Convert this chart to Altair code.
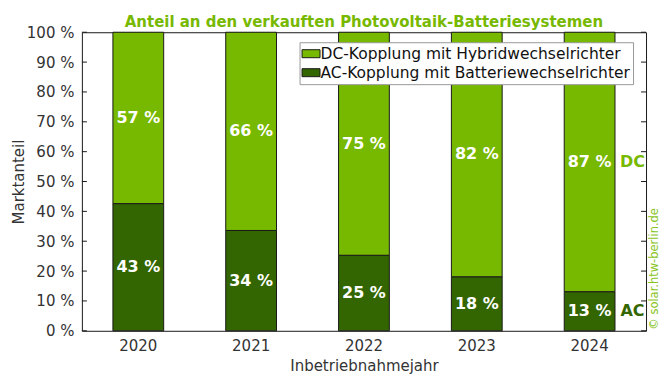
import altair as alt
import pandas as pd

years = ["2020", "2021", "2022", "2023", "2024"]
ac_share = [42.6, 33.6, 25.3, 18.1, 13.1]
dc_share = [57.4, 66.4, 74.7, 81.9, 86.9]
series = ["DC-Kopplung mit Hybridwechselrichter", "AC-Kopplung mit Batteriewechselrichter"]
colors = ["#77b800", "#336600"]
y_ticks = [0, 10, 20, 30, 40, 50, 60, 70, 80, 90, 100]

rows = []
for yr, a, d in zip(years, ac_share, dc_share):
    rows.append(dict(year=yr, series=series[1], value=a, order=0, mid=a / 2, label=f"{round(a)} %"))
    rows.append(dict(year=yr, series=series[0], value=d, order=1, mid=a + d / 2, label=f"{round(d)} %"))
df = pd.DataFrame(rows)
ticks_df = pd.DataFrame({"t": y_ticks})

FONT = "DejaVu Sans"
W, H = 565, 299

xaxis = alt.Axis(labelAngle=0, ticks=False, domain=False, labelPadding=8,
                 labelFontSize=15, titleFontSize=15, labelColor="#333",
                 titleColor="#333", labelFont=FONT, titleFont=FONT,
                 titleFontWeight="normal", titlePadding=5)
yaxis = alt.Axis(values=y_ticks, labelExpr="datum.value + ' %'", ticks=False,
                 domain=False, grid=False, labelPadding=8, labelFontSize=15,
                 titleFontSize=15, labelColor="#333", titleColor="#333",
                 labelFont=FONT, titleFont=FONT, titleFontWeight="normal",
                 titlePadding=0, labelOverlap=False)
xscale = alt.Scale(paddingInner=0.55, paddingOuter=0.275)
yscale = alt.Scale(domain=[0, 100], nice=False)
XT = "Inbetriebnahmejahr"
YT = "Marktanteil"

bars = alt.Chart(df).mark_bar(stroke="#1a1a1a", strokeWidth=1).encode(
    x=alt.X("year:N", title=XT, scale=xscale, axis=xaxis),
    y=alt.Y("value:Q", stack="zero", scale=yscale, title=YT, axis=yaxis),
    color=alt.Color("series:N", scale=alt.Scale(domain=series, range=colors),
                    legend=alt.Legend(title=None, orient="none", legendX=218, legendY=10,
                                      symbolType="M-1.125,-0.5H1.125V0.5H-1.125Z",
                                      symbolSize=256, symbolStrokeColor="#1a1a1a",
                                      symbolStrokeWidth=1, symbolOpacity=1,
                                      labelFontSize=15.5, labelFont=FONT, labelColor="#111",
                                      labelLimit=400, labelOffset=1, rowPadding=2,
                                      padding=3, fillColor="white", strokeColor="#999")),
    order=alt.Order("order:Q"),
)

labels = alt.Chart(df).mark_text(color="white", fontWeight="bold", fontSize=16,
                                 font=FONT, baseline="middle").encode(
    x=alt.X("year:N", title=XT, scale=xscale, axis=xaxis),
    y=alt.Y("mid:Q", scale=yscale, title=YT, axis=yaxis),
    text="label:N",
)

last = df[df["year"] == years[-1]].copy()
last["tag"] = last["series"].map({series[0]: "DC", series[1]: "AC"})
side = alt.Chart(last).mark_text(fontWeight="bold", fontSize=16, font=FONT,
                                 baseline="middle", dx=43).encode(
    x=alt.X("year:N", title=XT, scale=xscale, axis=xaxis),
    y=alt.Y("mid:Q", scale=yscale, title=YT, axis=yaxis),
    text="tag:N",
    color=alt.Color("series:N", scale=alt.Scale(domain=series, range=colors), legend=None),
)

ticks_l = alt.Chart(ticks_df).mark_rule(color="#1a1a1a").encode(
    x=alt.value(0), x2=alt.value(5), y=alt.Y("t:Q", scale=yscale, title=YT, axis=yaxis))
ticks_r = alt.Chart(ticks_df).mark_rule(color="#1a1a1a").encode(
    x=alt.value(W - 5), x2=alt.value(W), y=alt.Y("t:Q", scale=yscale, title=YT, axis=yaxis))

copyright_txt = alt.Chart(pd.DataFrame({"c": ["© solar.htw-berlin.de"]})).mark_text(
    angle=270, fontSize=11.5, font=FONT, color="#88c41c", baseline="middle", align="center"
).encode(x=alt.value(W + 9), y=alt.value(237), text="c:N")

chart = alt.layer(bars, labels, side, ticks_l, ticks_r, copyright_txt).properties(
    width=W, height=H,
    background="white",
    title=alt.Title("Anteil an den verkauften Photovoltaik-Batteriesystemen",
                    color="#77b800", fontSize=15, font=FONT,
                    fontWeight="bold", anchor="middle", offset=0, dy=5),
    autosize=alt.AutoSizeParams(type="none"),
    padding={"left": 74, "top": 24, "right": 16, "bottom": 45},
).configure_view(stroke="#1a1a1a", strokeWidth=1)

chart.save("out.html", embed_options={"renderer": "svg", "actions": False})
